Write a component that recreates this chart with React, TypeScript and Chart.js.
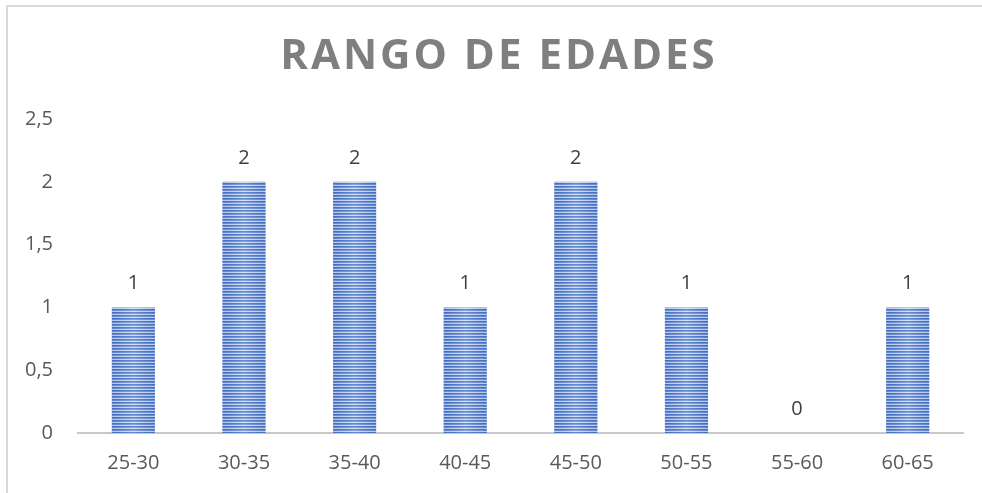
import React, { useEffect, useRef } from "react";
import { Chart, registerables } from "chart.js";

Chart.register(...registerables);

const TITLE = "RANGO DE EDADES";
const CATEGORIES = ["25-30", "30-35", "35-40", "40-45", "45-50", "50-55", "55-60", "60-65"];
const VALUES = [1, 2, 2, 1, 2, 1, 0, 1];
const Y_MIN = 0;
const Y_MAX = 2.5;
const Y_STEP = 0.5;

function makeStripePattern(ctx: CanvasRenderingContext2D): CanvasPattern | string {
  const c = document.createElement("canvas");
  c.width = 4;
  c.height = 3;
  const p = c.getContext("2d");
  if (!p) return "#4472C4";
  p.fillStyle = "#4070C6";
  p.fillRect(0, 0, 4, 1);
  p.fillStyle = "#6A8ED6";
  p.fillRect(0, 1, 4, 1);
  p.fillStyle = "#CCDAF4";
  p.fillRect(0, 2, 4, 1);
  return ctx.createPattern(c, "repeat") || "#4472C4";
}

const titlePlugin = {
  id: "customTitle",
  afterDraw(chart: any) {
    const ctx = chart.ctx as CanvasRenderingContext2D;
    ctx.save();
    ctx.font = "bold 42px 'Open Sans'";
    (ctx as any).letterSpacing = "3px";
    ctx.fillStyle = "#7F7F7F";
    ctx.textAlign = "center";
    ctx.textBaseline = "middle";
    ctx.fillText(TITLE, 499, 57);
    ctx.restore();
  },
};

const barOverlayPlugin = {
  id: "barOverlay",
  afterDatasetsDraw(chart: any) {
    const ctx = chart.ctx as CanvasRenderingContext2D;
    const meta = chart.getDatasetMeta(0);
    ctx.save();
    meta.data.forEach((bar: any, i: number) => {
      const v = VALUES[i];
      const { x, y, base, width } = bar.getProps(["x", "y", "base", "width"], true);
      if (v > 0) {
        const left = x - width / 2;
        const g = ctx.createLinearGradient(left, 0, left + width, 0);
        g.addColorStop(0, "rgba(60,90,160,0.15)");
        g.addColorStop(0.5, "rgba(255,255,255,0.2)");
        g.addColorStop(1, "rgba(60,90,160,0.15)");
        ctx.fillStyle = g;
        ctx.fillRect(left, y, width, base - y);
      }
      ctx.font = "20px 'Open Sans'";
      ctx.fillStyle = "#404040";
      ctx.textAlign = "center";
      ctx.textBaseline = "middle";
      ctx.fillText(String(v), x, y - 24);
    });
    ctx.restore();
  },
};

export default function App() {
  const canvasRef = useRef<HTMLCanvasElement | null>(null);

  useEffect(() => {
    document.body.style.margin = "0";
    const canvas = canvasRef.current;
    if (!canvas) return;
    const ctx = canvas.getContext("2d");
    if (!ctx) return;
    const pattern = makeStripePattern(ctx);
    const chart = new Chart(canvas, {
      type: "bar",
      data: {
        labels: CATEGORIES,
        datasets: [
          {
            data: VALUES,
            backgroundColor: pattern as any,
            borderWidth: 0,
            barPercentage: 0.39,
            categoryPercentage: 1,
          },
        ],
      },
      options: {
        animation: false,
        responsive: false,
        maintainAspectRatio: false,
        layout: { padding: { top: 119, left: 0, right: 19, bottom: 0 } },
        plugins: {
          legend: { display: false },
          title: { display: false },
          tooltip: { enabled: false },
        },
        scales: {
          x: {
            grid: { display: false, drawTicks: false },
            border: { display: true, color: "#C8C8C8", width: 2 },
            ticks: {
              color: "#595959",
              font: { family: "'Open Sans'", size: 20 },
              padding: 18,
            },
          },
          y: {
            min: Y_MIN,
            max: Y_MAX,
            grid: { display: false, drawTicks: false },
            border: { display: false },
            ticks: {
              stepSize: Y_STEP,
              color: "#595959",
              font: { family: "'Open Sans'", size: 20 },
              padding: 25,
              callback: (v: any) => String(v).replace(".", ","),
            },
          },
        },
      },
      plugins: [titlePlugin, barOverlayPlugin],
    });
    return () => chart.destroy();
  }, []);

  return (
    <div style={{ position: "relative", width: 982, height: 493, overflow: "hidden", background: "#fff" }}>
      <div
        style={{
          position: "absolute",
          left: 6,
          top: 5,
          width: 1000,
          height: 600,
          borderTop: "2px solid #D9D9D9",
          borderLeft: "2px solid #D9D9D9",
          boxSizing: "border-box",
        }}
      />
      <canvas ref={canvasRef} width={982} height={493} style={{ position: "absolute", left: 0, top: 0 }} />
    </div>
  );
}
